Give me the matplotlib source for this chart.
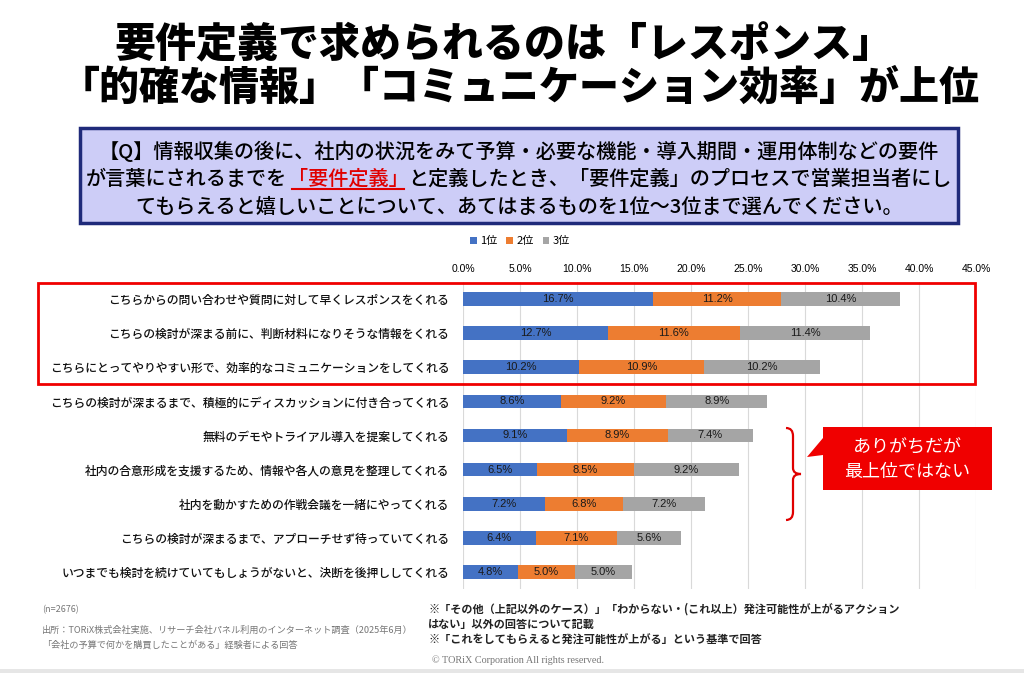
import numpy as np
import matplotlib
matplotlib.use("Agg")
import matplotlib.pyplot as plt
from matplotlib.patches import Rectangle, Polygon, PathPatch
from matplotlib.path import Path
from matplotlib.lines import Line2D
from matplotlib.transforms import Affine2D

plt.rcParams['font.family'] = ['Noto Sans CJK JP', 'DejaVu Sans']

# data
categories = [
    "こちらからの問い合わせや質問に対して早くレスポンスをくれる",
    "こちらの検討が深まる前に、判断材料になりそうな情報をくれる",
    "こちらにとってやりやすい形で、効率的なコミュニケーションをしてくれる",
    "こちらの検討が深まるまで、積極的にディスカッションに付き合ってくれる",
    "無料のデモやトライアル導入を提案してくれる",
    "社内の合意形成を支援するため、情報や各人の意見を整理してくれる",
    "社内を動かすための作戦会議を一緒にやってくれる",
    "こちらの検討が深まるまで、アプローチせず待っていてくれる",
    "いつまでも検討を続けていてもしょうがないと、決断を後押ししてくれる",
]
rank1 = [16.7, 12.7, 10.2, 8.6, 9.1, 6.5, 7.2, 6.4, 4.8]
rank2 = [11.2, 11.6, 10.9, 9.2, 8.9, 8.5, 6.8, 7.1, 5.0]
rank3 = [10.4, 11.4, 10.2, 8.9, 7.4, 9.2, 7.2, 5.6, 5.0]
series_names = ["1位", "2位", "3位"]
xticks = np.arange(0, 46, 5)

title1 = "要件定義で求められるのは「レスポンス」"
title2 = "「的確な情報」「コミュニケーション効率」が上位"
q_line1 = "【Q】情報収集の後に、社内の状況をみて予算・必要な機能・導入期間・運用体制などの要件"
q_line2 = [("が言葉にされるまでを", "black"), ("「要件定義」", "#e00000"),
           ("と定義したとき、「要件定義」のプロセスで営業担当者にし", "black")]
q_line3 = "てもらえると嬉しいことについて、あてはまるものを1位～3位まで選んでください。"

W, H = 1024, 673
fig = plt.figure(figsize=(W / 100, H / 100), dpi=100)
fig.patch.set_facecolor("white")

# pixel coords (top-left origin) -> figure
pix = Affine2D().scale(1 / W, -1 / H).translate(0, 1) + fig.transFigure


def fx(x):
    return x / W


def fy(y):
    return 1 - y / H


# title
fig.text(fx(504), fy(45), title1, ha="center", va="center", fontsize=29.5, weight="heavy")
fig.text(fx(520), fy(88), title2, ha="center", va="center", fontsize=28.8, weight="heavy")

# question box
fig.add_artist(Rectangle((80, 128), 878, 95, transform=pix, facecolor="#cdcdf7",
                         edgecolor="#1f2a7a", lw=2.5))
fig.text(fx(519), fy(151), q_line1, ha="center", va="center", fontsize=14.5, weight="medium")
fig.text(fx(519), fy(207), q_line3, ha="center", va="center", fontsize=14.5, weight="medium")

r = fig.canvas.get_renderer()
parts = []
for s, c in q_line2:
    parts.append(fig.text(0, fy(179), s, color=c, ha="left", va="center", fontsize=14.5,
                          weight="medium"))
widths = [t.get_window_extent(r).width for t in parts]
x = 519 - sum(widths) / 2
for t, w in zip(parts, widths):
    t.set_x(fx(x))
    x += w
bb = parts[1].get_window_extent(r)
fig.add_artist(Line2D([bb.x0 / W + 0.004, bb.x1 / W - 0.004], [fy(189), fy(189)],
                      color="#e00000", lw=1.5))

# chart
ax = fig.add_axes([fx(463), fy(589), fx(976) - fx(463), (589 - 282) / H])
y = np.arange(len(categories))
colors = ["#4472c4", "#ed7d31", "#a5a5a5"]
left = np.zeros(len(categories))
for vals, name, col in zip([rank1, rank2, rank3], series_names, colors):
    bars = ax.barh(y, vals, left=left, height=0.4, color=col, label=name, zorder=3)
    ax.bar_label(bars, labels=[f"{v:.1f}%" for v in vals], label_type="center",
                 fontsize=8, color="#1a1a1a", family=["Liberation Sans", "DejaVu Sans"])
    left += np.array(vals)

ax.set_xlim(0, 45)
ax.set_ylim(len(categories) - 0.5, -0.5)
ax.xaxis.tick_top()
ax.set_xticks(xticks)
ax.set_xticklabels([f"{v:.1f}%" for v in xticks], fontsize=7.5,
                   family=["Liberation Sans", "DejaVu Sans"])
ax.set_yticks(y)
ax.set_yticklabels(categories, fontsize=8.5, color="#111111", weight="medium")
ax.tick_params(length=0, axis="x", pad=6)
ax.tick_params(length=0, axis="y", pad=10)
ax.grid(axis="x", color="#d9d9d9", lw=0.8, zorder=0)
for s in ax.spines.values():
    s.set_visible(False)

fig.legend(loc="center", bbox_to_anchor=(fx(520), fy(241)), ncol=3, frameon=False,
           fontsize=8, handlelength=0.6, handleheight=0.6, handletextpad=0.3,
           columnspacing=0.8)

# highlight box around top 3
fig.add_artist(Rectangle((38, 283), 937, 101, transform=pix, facecolor="none",
                         edgecolor="#f00000", lw=2))

# brace
verts = [(786, 428), (793, 428), (793, 436), (793, 468), (793, 474), (801, 474),
         (793, 474), (793, 480), (793, 512), (793, 520), (786, 520)]
codes = [Path.MOVETO, Path.CURVE3, Path.CURVE3, Path.LINETO, Path.CURVE3, Path.CURVE3,
         Path.CURVE3, Path.CURVE3, Path.LINETO, Path.CURVE3, Path.CURVE3]
fig.add_artist(PathPatch(Path(verts, codes), transform=pix, facecolor="none",
                         edgecolor="#e00000", lw=1.6))

# callout
fig.add_artist(Polygon([(823, 427), (992, 427), (992, 490), (823, 490), (823, 455),
                        (807, 457), (823, 438)], closed=True, transform=pix,
                       facecolor="#f00000", edgecolor="none"))
fig.text(fx(907), fy(447), "ありがちだが", color="white", ha="center", va="center", fontsize=13)
fig.text(fx(907), fy(472), "最上位ではない", color="white", ha="center", va="center", fontsize=13)

# notes
fig.text(fx(42), fy(610), "(n=2676)", color="#777777", fontsize=6.5, va="center")
fig.text(fx(42), fy(630), "出所：TORiX株式会社実施、リサーチ会社パネル利用のインターネット調査（2025年6月）",
         color="#777777", fontsize=6.6, va="center")
fig.text(fx(42), fy(645), "「会社の予算で何かを購買したことがある」経験者による回答",
         color="#777777", fontsize=6.6, va="center")
fig.text(fx(428), fy(609), "※「その他（上記以外のケース）」「わからない・(これ以上）発注可能性が上がるアクション",
         color="#222222", fontsize=8, va="center", weight="bold")
fig.text(fx(428), fy(624), "はない」以外の回答について記載",
         color="#222222", fontsize=8, va="center", weight="bold")
fig.text(fx(428), fy(640), "※「これをしてもらえると発注可能性が上がる」という基準で回答",
         color="#222222", fontsize=8, va="center", weight="bold")
fig.text(fx(518), fy(660), "© TORiX Corporation All rights reserved.", color="#777777",
         fontsize=7.3, ha="center", va="center", family=["Liberation Serif", "DejaVu Serif"])
fig.add_artist(Rectangle((0, 669), 1024, 4, transform=pix, facecolor="#e6e6e6", edgecolor="none"))

fig.savefig("out.png", dpi=100)
